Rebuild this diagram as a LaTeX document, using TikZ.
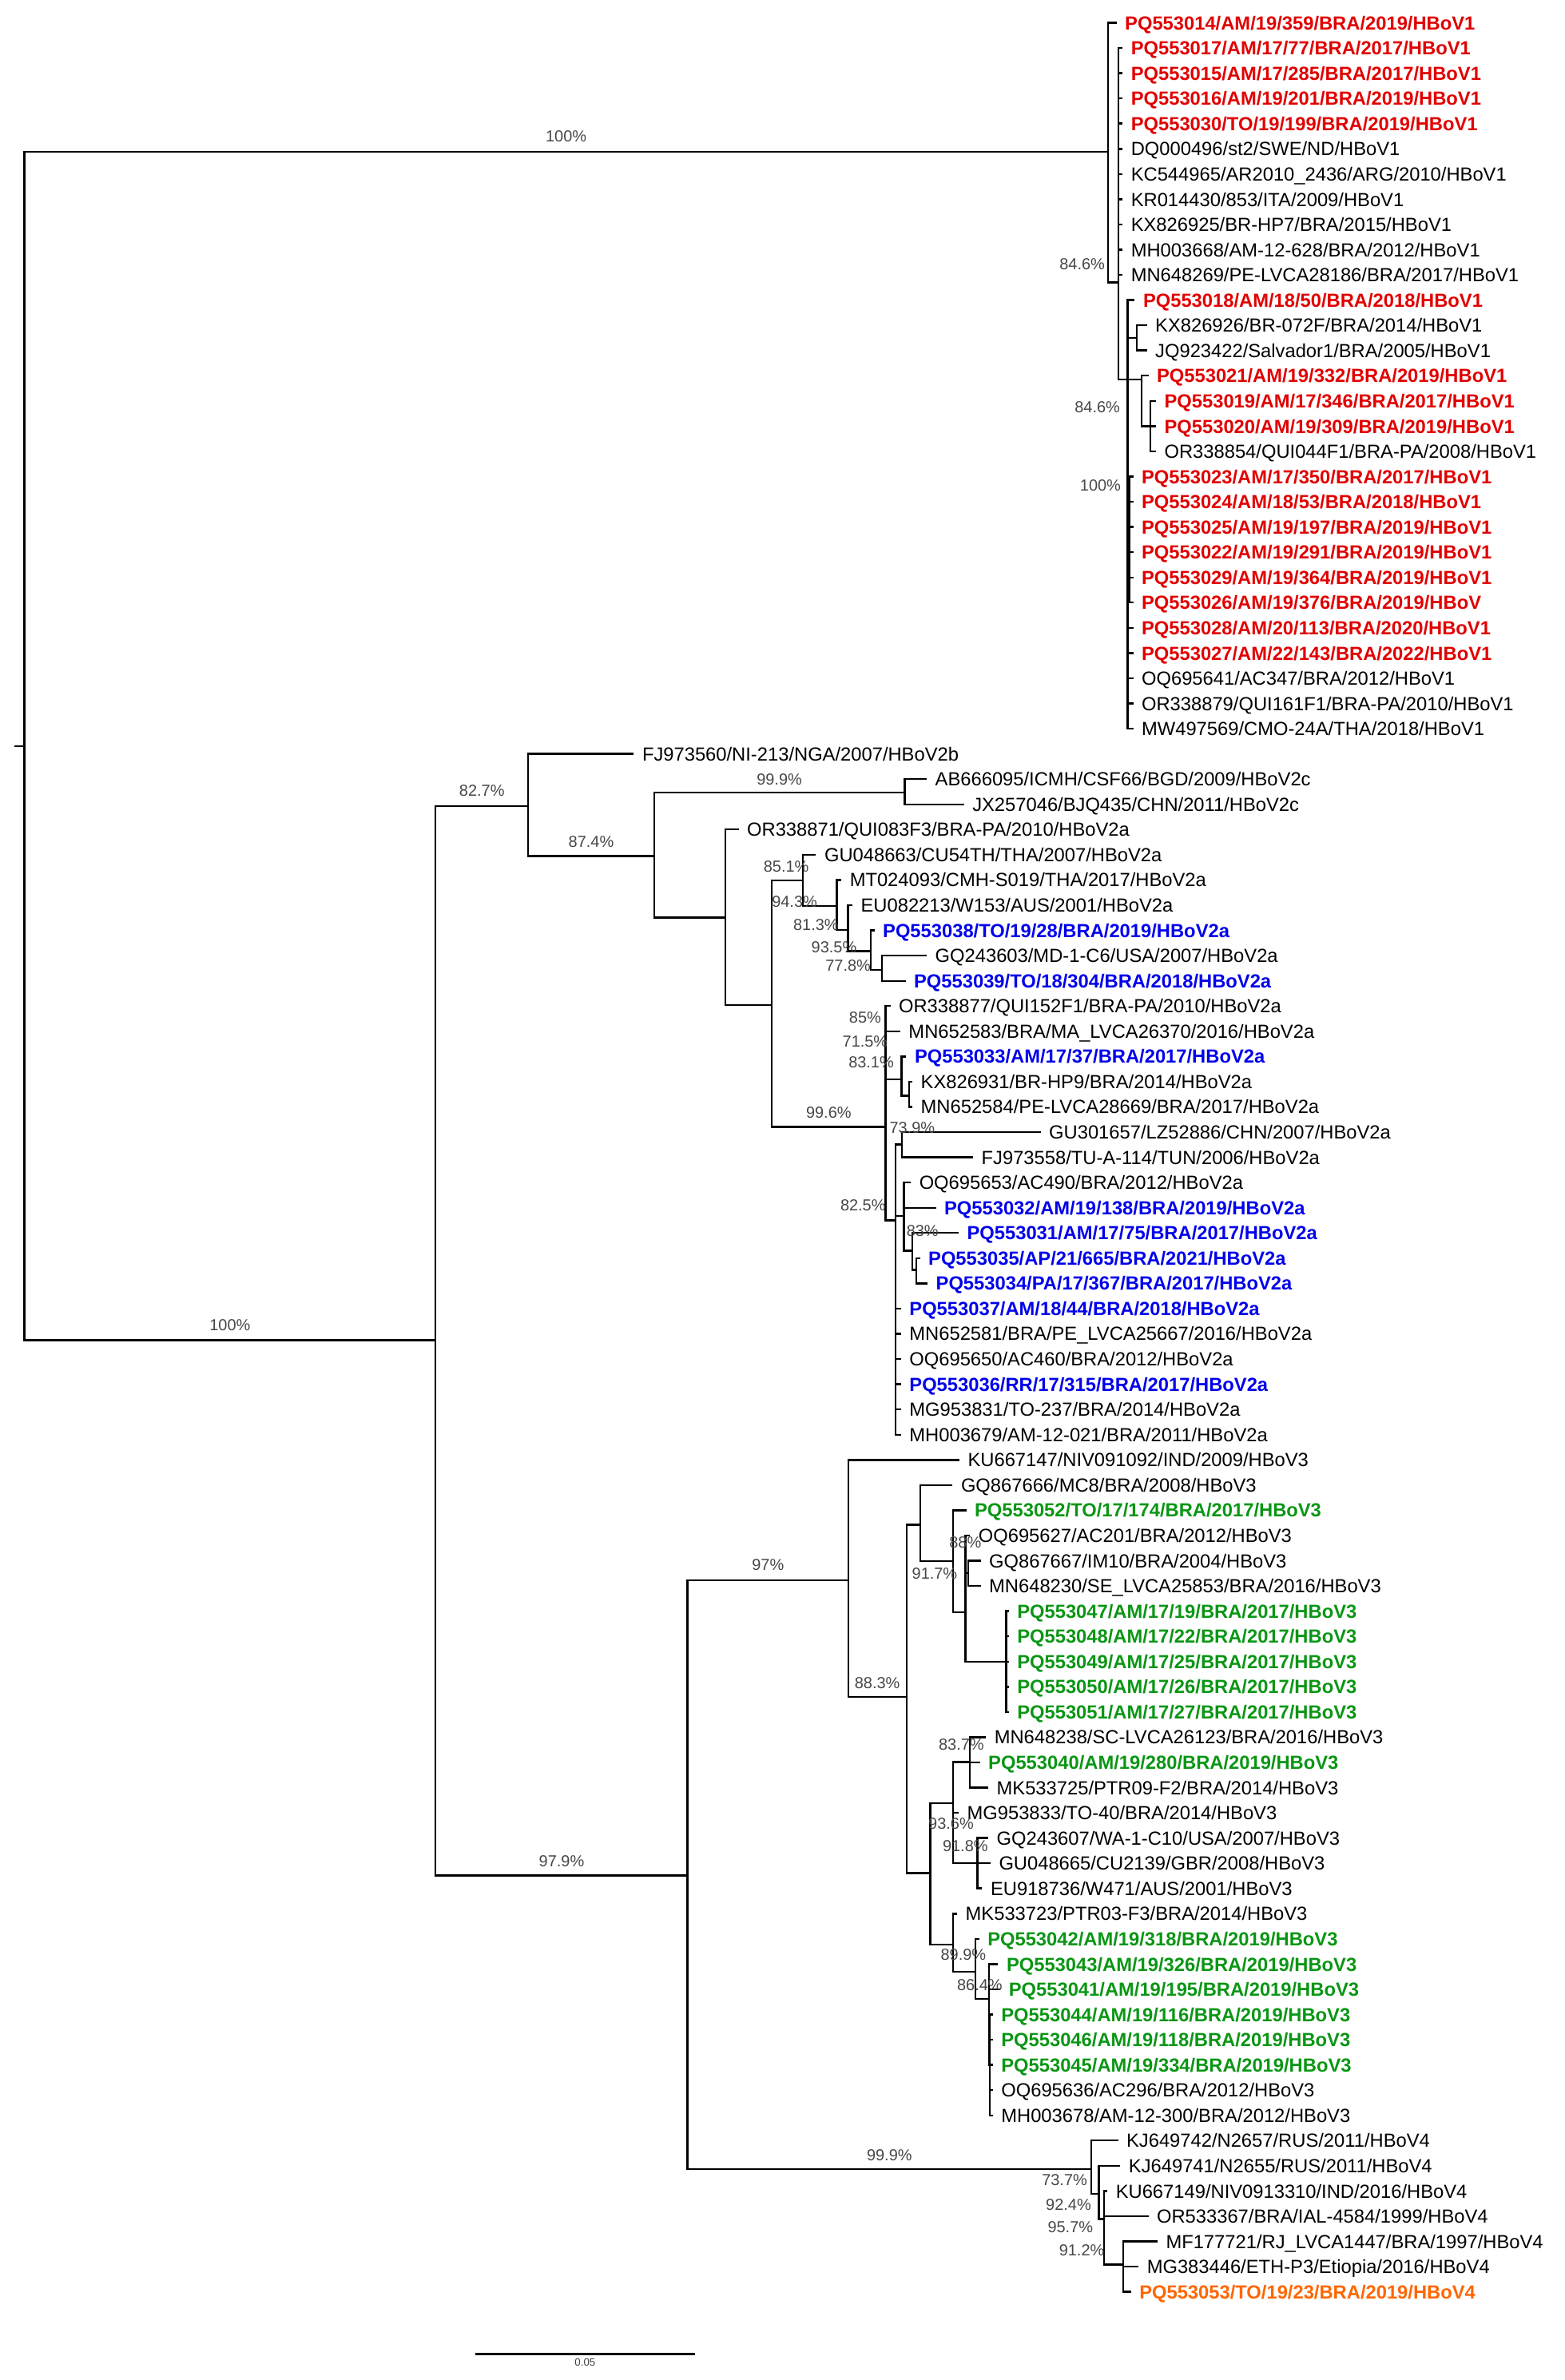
\documentclass[tikz,border=0pt]{standalone}
\usepackage{fontspec}
\setmainfont{Liberation Sans}
\definecolor{hbred}{RGB}{225,0,0}
\definecolor{hbblue}{RGB}{0,0,235}
\definecolor{hbgreen}{RGB}{10,150,20}
\definecolor{hborange}{RGB}{255,102,0}
\newcommand{\leaffont}{\fontsize{12.5}{14}\selectfont}
\newcommand{\bootfont}{\fontsize{10.5}{12}\selectfont}
\tikzset{
  branch/.style={line width=1.25pt, line cap=rect},
  leaf/.style={anchor=west, inner xsep=6pt, inner ysep=0pt, text height=9pt, text depth=0pt, font=\leaffont},
  hb1/.style={leaf, text=hbred, font=\leaffont\bfseries},
  hb2/.style={leaf, text=hbblue, font=\leaffont\bfseries},
  hb3/.style={leaf, text=hbgreen, font=\leaffont\bfseries},
  hb4/.style={leaf, text=hborange, font=\leaffont\bfseries},
  boot/.style={font=\bootfont, text=black!72, inner sep=0pt}
}
\begin{document}
\begin{tikzpicture}[x=1pt,y=-1pt]
\useasboundingbox (0,0) rectangle (1031,1568);

%Wurzel und innere Knoten
\coordinate (stub) at (10,491.5);
\coordinate (root) at (16,491.5);
\coordinate (nA) at (730,100);
\coordinate (nB) at (737,186);
\coordinate (nC) at (743,250);
\coordinate (nE) at (749,222.6);
\coordinate (nF) at (752,250);
\coordinate (nG) at (758,280.8);
\coordinate (nH) at (744,355.5);
\coordinate (nX) at (287,883);
\coordinate (n2) at (348,531);
\coordinate (n2b) at (431,564);
\coordinate (n2c) at (596,522);
\coordinate (n2d) at (478,604.6);
\coordinate (n2h) at (508.6,662);
\coordinate (n2f) at (529,580);
\coordinate (n2j) at (551.3,596.8);
\coordinate (n2k) at (558.8,612.6);
\coordinate (n2l) at (573.6,626.6);
\coordinate (n2m) at (581,639);
\coordinate (n2i) at (583.5,742.5);
\coordinate (n2o) at (594,711);
\coordinate (n2p) at (599,721.9);
\coordinate (n2x) at (590,804);
\coordinate (n2t) at (594.3,754);
\coordinate (n2w) at (595.6,801);
\coordinate (n2u) at (601,824);
\coordinate (n2v) at (603.7,836.6);
\coordinate (nY) at (453,1235.5);
\coordinate (n3) at (559,1041);
\coordinate (n3b) at (597.4,1118);
\coordinate (n3d) at (606.3,1004.5);
\coordinate (n3e) at (628,1028.6);
\coordinate (n3h) at (636,1062);
\coordinate (n3i) at (638,1036.5);
\coordinate (n3j) at (663,1094.7);
\coordinate (n3c) at (613,1234);
\coordinate (n3k) at (628,1188);
\coordinate (n3m) at (639,1160.8);
\coordinate (n3n) at (644,1227.5);
\coordinate (n3l) at (628,1281);
\coordinate (n3o) at (642.8,1299);
\coordinate (n3p) at (651.5,1317);
\coordinate (n3r) at (652.2,1360.4);
\coordinate (n4) at (719,1429);
\coordinate (n4b) at (724,1445.5);
\coordinate (n4c) at (727.3,1462);
\coordinate (n4d) at (740.2,1492);

%HBoV1
\node[hb1] (L1) at (735,15.0) {PQ553014/AM/19/359/BRA/2019/HBoV1};
\node[hb1] (L2) at (739,31.6) {PQ553017/AM/17/77/BRA/2017/HBoV1};
\node[hb1] (L3) at (739,48.2) {PQ553015/AM/17/285/BRA/2017/HBoV1};
\node[hb1] (L4) at (739,64.8) {PQ553016/AM/19/201/BRA/2019/HBoV1};
\node[hb1] (L5) at (739,81.4) {PQ553030/TO/19/199/BRA/2019/HBoV1};
\node[leaf] (L6) at (739,98.1) {DQ000496/st2/SWE/ND/HBoV1};
\node[leaf] (L7) at (739,114.7) {KC544965/AR2010\_2436/ARG/2010/HBoV1};
\node[leaf] (L8) at (739,131.3) {KR014430/853/ITA/2009/HBoV1};
\node[leaf] (L9) at (739,147.9) {KX826925/BR-HP7/BRA/2015/HBoV1};
\node[leaf] (L10) at (739,164.5) {MH003668/AM-12-628/BRA/2012/HBoV1};
\node[leaf] (L11) at (739,181.1) {MN648269/PE-LVCA28186/BRA/2017/HBoV1};
\node[hb1] (L12) at (747,197.7) {PQ553018/AM/18/50/BRA/2018/HBoV1};
\node[leaf] (L13) at (755,214.3) {KX826926/BR-072F/BRA/2014/HBoV1};
\node[leaf] (L14) at (755,230.9) {JQ923422/Salvador1/BRA/2005/HBoV1};
\node[hb1] (L15) at (756,247.5) {PQ553021/AM/19/332/BRA/2019/HBoV1};
\node[hb1] (L16) at (761,264.2) {PQ553019/AM/17/346/BRA/2017/HBoV1};
\node[hb1] (L17) at (761,280.8) {PQ553020/AM/19/309/BRA/2019/HBoV1};
\node[leaf] (L18) at (761,297.4) {OR338854/QUI044F1/BRA-PA/2008/HBoV1};
\node[hb1] (L19) at (746,314.0) {PQ553023/AM/17/350/BRA/2017/HBoV1};
\node[hb1] (L20) at (746,330.6) {PQ553024/AM/18/53/BRA/2018/HBoV1};
\node[hb1] (L21) at (746,347.2) {PQ553025/AM/19/197/BRA/2019/HBoV1};
\node[hb1] (L22) at (746,363.8) {PQ553022/AM/19/291/BRA/2019/HBoV1};
\node[hb1] (L23) at (746,380.4) {PQ553029/AM/19/364/BRA/2019/HBoV1};
\node[hb1] (L24) at (746,397.0) {PQ553026/AM/19/376/BRA/2019/HBoV};
\node[hb1] (L25) at (746,413.6) {PQ553028/AM/20/113/BRA/2020/HBoV1};
\node[hb1] (L26) at (746,430.3) {PQ553027/AM/22/143/BRA/2022/HBoV1};
\node[leaf] (L27) at (746,446.9) {OQ695641/AC347/BRA/2012/HBoV1};
\node[leaf] (L28) at (746,463.5) {OR338879/QUI161F1/BRA-PA/2010/HBoV1};
\node[leaf] (L29) at (746,480.1) {MW497569/CMO-24A/THA/2018/HBoV1};

%HBoV2
\node[leaf] (L30) at (417,496.7) {FJ973560/NI-213/NGA/2007/HBoV2b};
\node[leaf] (L31) at (610,513.3) {AB666095/ICMH/CSF66/BGD/2009/HBoV2c};
\node[leaf] (L32) at (634.5,529.9) {JX257046/BJQ435/CHN/2011/HBoV2c};
\node[leaf] (L33) at (486,546.5) {OR338871/QUI083F3/BRA-PA/2010/HBoV2a};
\node[leaf] (L34) at (537,563.1) {GU048663/CU54TH/THA/2007/HBoV2a};
\node[leaf] (L35) at (553.7,579.7) {MT024093/CMH-S019/THA/2017/HBoV2a};
\node[leaf] (L36) at (561,596.4) {EU082213/W153/AUS/2001/HBoV2a};
\node[hb2] (L37) at (575.5,613.0) {PQ553038/TO/19/28/BRA/2019/HBoV2a};
\node[leaf] (L38) at (610,629.6) {GQ243603/MD-1-C6/USA/2007/HBoV2a};
\node[hb2] (L39) at (596,646.2) {PQ553039/TO/18/304/BRA/2018/HBoV2a};
\node[leaf] (L40) at (586,662.8) {OR338877/QUI152F1/BRA-PA/2010/HBoV2a};
\node[leaf] (L41) at (592.5,679.4) {MN652583/BRA/MA\_LVCA26370/2016/HBoV2a};
\node[hb2] (L42) at (596.5,696.0) {PQ553033/AM/17/37/BRA/2017/HBoV2a};
\node[leaf] (L43) at (600.5,712.6) {KX826931/BR-HP9/BRA/2014/HBoV2a};
\node[leaf] (L44) at (600.5,729.2) {MN652584/PE-LVCA28669/BRA/2017/HBoV2a};
\node[leaf] (L45) at (685,745.8) {GU301657/LZ52886/CHN/2007/HBoV2a};
\node[leaf] (L46) at (640.5,762.5) {FJ973558/TU-A-114/TUN/2006/HBoV2a};
\node[leaf] (L47) at (599.5,779.1) {OQ695653/AC490/BRA/2012/HBoV2a};
\node[hb2] (L48) at (616,795.7) {PQ553032/AM/19/138/BRA/2019/HBoV2a};
\node[hb2] (L49) at (631,812.3) {PQ553031/AM/17/75/BRA/2017/HBoV2a};
\node[hb2] (L50) at (605.5,828.9) {PQ553035/AP/21/665/BRA/2021/HBoV2a};
\node[hb2] (L51) at (610.5,845.5) {PQ553034/PA/17/367/BRA/2017/HBoV2a};
\node[hb2] (L52) at (593,862.1) {PQ553037/AM/18/44/BRA/2018/HBoV2a};
\node[leaf] (L53) at (593,878.7) {MN652581/BRA/PE\_LVCA25667/2016/HBoV2a};
\node[leaf] (L54) at (593,895.3) {OQ695650/AC460/BRA/2012/HBoV2a};
\node[hb2] (L55) at (593,911.9) {PQ553036/RR/17/315/BRA/2017/HBoV2a};
\node[leaf] (L56) at (593,928.6) {MG953831/TO-237/BRA/2014/HBoV2a};
\node[leaf] (L57) at (593,945.2) {MH003679/AM-12-021/BRA/2011/HBoV2a};

%HBoV3
\node[leaf] (L58) at (631.5,961.8) {KU667147/NIV091092/IND/2009/HBoV3};
\node[leaf] (L59) at (627,978.4) {GQ867666/MC8/BRA/2008/HBoV3};
\node[hb3] (L60) at (636,995.0) {PQ553052/TO/17/174/BRA/2017/HBoV3};
\node[leaf] (L61) at (638.5,1011.6) {OQ695627/AC201/BRA/2012/HBoV3};
\node[leaf] (L62) at (645.5,1028.2) {GQ867667/IM10/BRA/2004/HBoV3};
\node[leaf] (L63) at (645.5,1044.8) {MN648230/SE\_LVCA25853/BRA/2016/HBoV3};
\node[hb3] (L64) at (664,1061.4) {PQ553047/AM/17/19/BRA/2017/HBoV3};
\node[hb3] (L65) at (664,1078.0) {PQ553048/AM/17/22/BRA/2017/HBoV3};
\node[hb3] (L66) at (664,1094.7) {PQ553049/AM/17/25/BRA/2017/HBoV3};
\node[hb3] (L67) at (664,1111.3) {PQ553050/AM/17/26/BRA/2017/HBoV3};
\node[hb3] (L68) at (664,1127.9) {PQ553051/AM/17/27/BRA/2017/HBoV3};
\node[leaf] (L69) at (649,1144.5) {MN648238/SC-LVCA26123/BRA/2016/HBoV3};
\node[hb3] (L70) at (645,1161.1) {PQ553040/AM/19/280/BRA/2019/HBoV3};
\node[leaf] (L71) at (650.5,1177.7) {MK533725/PTR09-F2/BRA/2014/HBoV3};
\node[leaf] (L72) at (631,1194.3) {MG953833/TO-40/BRA/2014/HBoV3};
\node[leaf] (L73) at (650.5,1210.9) {GQ243607/WA-1-C10/USA/2007/HBoV3};
\node[leaf] (L74) at (652,1227.5) {GU048665/CU2139/GBR/2008/HBoV3};
\node[leaf] (L75) at (646.5,1244.1) {EU918736/W471/AUS/2001/HBoV3};
\node[leaf] (L76) at (630,1260.8) {MK533723/PTR03-F3/BRA/2014/HBoV3};
\node[hb3] (L77) at (644.5,1277.4) {PQ553042/AM/19/318/BRA/2019/HBoV3};
\node[hb3] (L78) at (657,1294.0) {PQ553043/AM/19/326/BRA/2019/HBoV3};
\node[hb3] (L79) at (658.5,1310.6) {PQ553041/AM/19/195/BRA/2019/HBoV3};
\node[hb3] (L80) at (653.5,1327.2) {PQ553044/AM/19/116/BRA/2019/HBoV3};
\node[hb3] (L81) at (653.5,1343.8) {PQ553046/AM/19/118/BRA/2019/HBoV3};
\node[hb3] (L82) at (653.5,1360.4) {PQ553045/AM/19/334/BRA/2019/HBoV3};
\node[leaf] (L83) at (653.5,1377.0) {OQ695636/AC296/BRA/2012/HBoV3};
\node[leaf] (L84) at (653.5,1393.6) {MH003678/AM-12-300/BRA/2012/HBoV3};

%HBoV4
\node[leaf] (L85) at (736,1410.2) {KJ649742/N2657/RUS/2011/HBoV4};
\node[leaf] (L86) at (737.5,1426.9) {KJ649741/N2655/RUS/2011/HBoV4};
\node[leaf] (L87) at (729,1443.5) {KU667149/NIV0913310/IND/2016/HBoV4};
\node[leaf] (L88) at (756,1460.1) {OR533367/BRA/IAL-4584/1999/HBoV4};
\node[leaf] (L89) at (762,1476.7) {MF177721/RJ\_LVCA1447/BRA/1997/HBoV4};
\node[leaf] (L90) at (749.5,1493.3) {MG383446/ETH-P3/Etiopia/2016/HBoV4};
\node[hb4] (L91) at (744.5,1509.9) {PQ553053/TO/19/23/BRA/2019/HBoV4};

%Aeste
\draw[branch] (stub) -- (root);
\draw[branch] (root) |- (nA);
\draw[branch] (root) |- (nX);
\draw[branch] (nA) |- (L1.west);
\draw[branch] (nA) |- (nB);
\foreach \i in {2,...,11}
	\draw[branch] (nB) |- (L\i.west);
\draw[branch] (nB) |- (nC);
\draw[branch] (nC) |- (L12.west);
\draw[branch] (nC) |- (nE);
\draw[branch] (nC) |- (nF);
\draw[branch] (nC) |- (nH);
\foreach \i in {25,...,29}
	\draw[branch] (nC) |- (L\i.west);
\foreach \i in {13,14}
	\draw[branch] (nE) |- (L\i.west);
\draw[branch] (nF) |- (L15.west);
\draw[branch] (nF) |- (nG);
\foreach \i in {16,17,18}
	\draw[branch] (nG) |- (L\i.west);
\foreach \i in {19,...,24}
	\draw[branch] (nH) |- (L\i.west);

\foreach \a/\b in {nX/n2, nX/nY, n2/L30.west, n2/n2b, n2b/n2c, n2b/n2d,
	n2c/L31.west, n2c/L32.west, n2d/L33.west, n2d/n2h, n2h/n2f, n2h/n2i,
	n2f/L34.west, n2f/n2j, n2j/L35.west, n2j/n2k, n2k/L36.west, n2k/n2l,
	n2l/L37.west, n2l/n2m, n2m/L38.west, n2m/L39.west,
	n2i/L40.west, n2i/L41.west, n2i/n2o, n2i/n2x, n2o/L42.west, n2o/n2p,
	n2p/L43.west, n2p/L44.west, n2x/n2t, n2x/n2w, n2t/L45.west, n2t/L46.west,
	n2w/L47.west, n2w/L48.west, n2w/n2u, n2u/L49.west, n2u/n2v,
	n2v/L50.west, n2v/L51.west}
	\draw[branch] (\a) |- (\b);
\foreach \i in {52,...,57}
	\draw[branch] (n2x) |- (L\i.west);

\foreach \a/\b in {nY/n3, nY/n4, n3/L58.west, n3/n3b, n3b/n3d, n3b/n3c,
	n3d/L59.west, n3d/n3e, n3e/L60.west, n3e/n3h, n3h/L61.west, n3h/n3i,
	n3h/n3j, n3i/L62.west, n3i/L63.west, n3c/n3k, n3c/n3l,
	n3k/n3m, n3k/L72.west, n3k/n3n, n3m/L69.west, n3m/L70.west, n3m/L71.west,
	n3n/L73.west, n3n/L74.west, n3n/L75.west, n3l/L76.west, n3l/n3o,
	n3o/L77.west, n3o/n3p, n3p/L78.west, n3p/L79.west, n3p/n3r}
	\draw[branch] (\a) |- (\b);
\foreach \i in {64,...,68}
	\draw[branch] (n3j) |- (L\i.west);
\foreach \i in {80,...,84}
	\draw[branch] (n3r) |- (L\i.west);

\foreach \a/\b in {n4/L85.west, n4/n4b, n4b/L86.west, n4b/n4c,
	n4c/L87.west, n4c/L88.west, n4c/n4d,
	n4d/L89.west, n4d/L90.west, n4d/L91.west}
	\draw[branch] (\a) |- (\b);

%Bootstrapwerte
\foreach \x/\y/\t in {
373/90/100, 713/174/84.6, 723/268/84.6, 725/320/100,
151.5/873/100, 317.5/521/82.7, 389.5/554.6/87.4, 513.5/513.4/99.9,
518/571/85.1, 523.5/594/94.3, 537.6/609.4/81.3, 549.5/624/93.5,
558.8/636/77.8, 546/733/99.6, 570/670.5/85, 570/686/71.5,
574/700/83.1, 601/743/73.9, 568.6/794.3/82.5, 607.8/811/83,
370/1226/97.9, 506/1031/97, 578/1109/88.3, 615.8/1036.6/91.7,
636/1016/88, 633.4/1149.6/83.7, 626.6/1201.5/93.6, 636/1216.4/91.8,
634.7/1288/89.9, 645.5/1307.6/86.4, 586/1420/99.9, 701.4/1436.2/73.7,
704/1452.5/92.4, 705.2/1467.4/95.7, 712.7/1482.3/91.2}
	\node[boot] at (\x,\y) {\t\%};

%Skala
\coordinate (sbl) at (313,1551);
\coordinate (sbr) at (458,1551);
\draw[line width=1.5pt] (sbl) -- (sbr);
\node[font=\fontsize{7}{8}\selectfont, text=black!75, anchor=north, inner sep=0pt] (sblab) at (385.5,1553.5) {0.05};

\end{tikzpicture}
\end{document}
